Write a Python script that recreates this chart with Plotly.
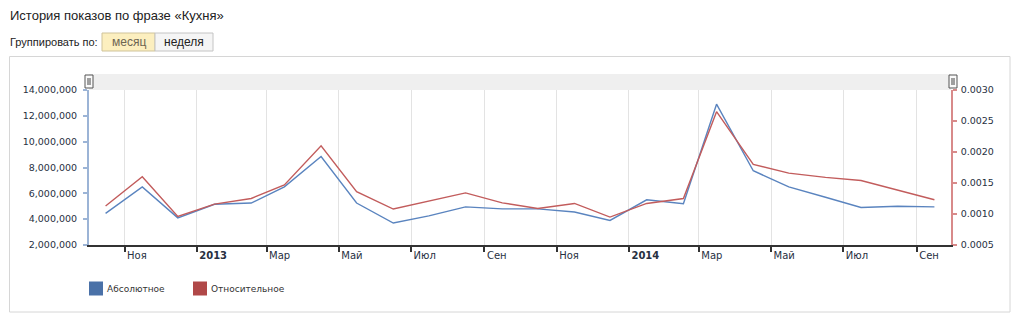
import plotly.graph_objects as go

# ---- data ----
months = ["2012-10-16", "2012-11-16", "2012-12-16", "2013-01-16", "2013-02-16", "2013-03-16",
          "2013-04-16", "2013-05-16", "2013-06-16", "2013-07-16", "2013-08-16", "2013-09-16",
          "2013-10-16", "2013-11-16", "2013-12-16", "2014-01-16", "2014-02-16", "2014-03-16",
          "2014-04-16", "2014-05-16", "2014-06-16", "2014-07-16", "2014-08-16", "2014-09-16"]
absolute = [4450000, 6500000, 4100000, 5150000, 5250000, 6500000,
            8850000, 5250000, 3700000, 4250000, 4950000, 4800000,
            4800000, 4550000, 3900000, 5500000, 5200000, 12900000,
            7750000, 6500000, 5700000, 4900000, 5000000, 4950000]
relative = [0.00113, 0.00160, 0.00096, 0.00116, 0.00125, 0.00147,
            0.00210, 0.00136, 0.00108, 0.00121, 0.00134, 0.00118,
            0.00109, 0.00117, 0.00095, 0.00117, 0.00125, 0.00265,
            0.00180, 0.00166, 0.00159, 0.00154, 0.00139, 0.00123]
x_tick_vals = ["2012-11-01", "2013-01-01", "2013-03-01", "2013-05-01", "2013-07-01", "2013-09-01",
               "2013-11-01", "2014-01-01", "2014-03-01", "2014-05-01", "2014-07-01", "2014-09-01"]
x_tick_text = ["Ноя", "<b>2013</b>", "Мар", "Май", "Июл", "Сен",
               "Ноя", "<b>2014</b>", "Мар", "Май", "Июл", "Сен"]
series_names = ["Абсолютное", "Относительное"]
title_text = "История показов по фразе «Кухня»"

BLUE = "#5a84bf"
RED = "#c25c5c"

W, H = 1024, 322
L, R, T, B = 89, 951, 90, 245


def px(x):
    return (x - L) / (R - L)


def py(y):
    return (B - y) / (B - T)


fig = go.Figure()
fig.add_trace(go.Scatter(x=months, y=absolute, mode="lines", name=series_names[0],
                         line=dict(color=BLUE, width=1.4), showlegend=False, yaxis="y"))
fig.add_trace(go.Scatter(x=months, y=relative, mode="lines", name=series_names[1],
                         line=dict(color=RED, width=1.4), showlegend=False, yaxis="y2"))

xtickfont = dict(family="DejaVu Sans", size=10, color="#27303f")
ytickfont = dict(family="DejaVu Sans", size=9.5, color="#27303f")

shapes = []
annotations = []

# outer box
shapes.append(dict(type="rect", xref="paper", yref="paper", x0=px(9.5), x1=px(1010), y0=py(56.5), y1=py(312),
                   line=dict(color="#d6d6d6", width=1), fillcolor="rgba(0,0,0,0)", layer="below"))
# navigator band
shapes.append(dict(type="rect", xref="paper", yref="paper", x0=0, x1=1, y0=py(90), y1=py(74),
                   line=dict(width=0), fillcolor="#efefef", layer="below"))
# handles
for hx in (89, 953):
    shapes.append(dict(type="rect", xref="paper", yref="paper", x0=px(hx - 4), x1=px(hx + 4),
                       y0=py(88), y1=py(75), line=dict(color="#555", width=1), fillcolor="#fafafa"))
    for dx in (-1, 1):
        shapes.append(dict(type="line", xref="paper", yref="paper", x0=px(hx + dx), x1=px(hx + dx),
                           y0=py(85), y1=py(78), line=dict(color="#444", width=1)))

# buttons
shapes.append(dict(type="rect", xref="paper", yref="paper", x0=px(102), x1=px(155), y0=py(51), y1=py(33),
                   line=dict(color="#cfc39a", width=1), fillcolor="#fcefbf"))
shapes.append(dict(type="rect", xref="paper", yref="paper", x0=px(155), x1=px(213), y0=py(51), y1=py(33),
                   line=dict(color="#c4c4c4", width=1), fillcolor="#f5f5f5"))
annotations.append(dict(text="месяц", xref="paper", yref="paper", x=px(128.5), y=py(42), showarrow=False,
                        xanchor="center", yanchor="middle",
                        font=dict(family="Liberation Sans", size=12, color="#6d6552")))
annotations.append(dict(text="неделя", xref="paper", yref="paper", x=px(184), y=py(42), showarrow=False,
                        xanchor="center", yanchor="middle",
                        font=dict(family="Liberation Sans", size=12, color="#222")))
annotations.append(dict(text="Группировать по:", xref="paper", yref="paper", x=px(8), y=py(42), showarrow=False,
                        xanchor="left", yanchor="middle",
                        font=dict(family="Liberation Sans", size=11, color="#222")))
annotations.append(dict(text=title_text, xref="paper", yref="paper", x=px(8), y=py(16), showarrow=False,
                        xanchor="left", yanchor="middle",
                        font=dict(family="Liberation Sans", size=13, color="#222")))

# legend
for (x0, col, name) in ((89, "#4a71a8", series_names[0]), (193, "#b04848", series_names[1])):
    shapes.append(dict(type="rect", xref="paper", yref="paper", x0=px(x0), x1=px(x0 + 14),
                       y0=py(295.5), y1=py(281.5), line=dict(width=0), fillcolor=col))
    annotations.append(dict(text=name, xref="paper", yref="paper", x=px(x0 + 16), y=py(289), showarrow=False,
                            xanchor="left", yanchor="middle",
                            font=dict(family="DejaVu Sans", size=9, color="#333")))

fig.update_layout(
    width=W, height=H,
    margin=dict(l=L, r=W - R, t=T, b=H - B, pad=0),
    paper_bgcolor="white", plot_bgcolor="white",
    showlegend=False,
    xaxis=dict(type="date", range=["2012-10-02", "2014-09-30"],
               tickmode="array", tickvals=x_tick_vals, ticktext=x_tick_text,
               ticks="outside", ticklen=5, tickcolor="#333", tickwidth=1.5,
               showline=True, linecolor="#333", linewidth=1.5,
               showgrid=True, gridcolor="#e3e3e3", gridwidth=1,
               ticklabelposition="outside right", ticklabelshift=1,
               tickfont=xtickfont, zeroline=False, fixedrange=True),
    yaxis=dict(range=[2000000, 14000000], dtick=2000000, tickformat=",",
               ticks="outside", ticklen=4, tickcolor="#9cb4d6", tickwidth=1.5,
               showline=True, linecolor="#9cb4d6", linewidth=2,
               ticklabelstandoff=4,
               showgrid=False, zeroline=False, tickfont=ytickfont),
    yaxis2=dict(range=[0.0005, 0.0030], dtick=0.0005, tickformat=".4f", overlaying="y", side="right",
                ticks="outside", ticklen=4, tickcolor="#d88a8a", tickwidth=1.5,
                showline=True, linecolor="#d88a8a", linewidth=1.5,
                ticklabelstandoff=2,
                showgrid=False, zeroline=False, tickfont=ytickfont),
    shapes=shapes,
    annotations=annotations,
)

fig.write_html("out.html")
